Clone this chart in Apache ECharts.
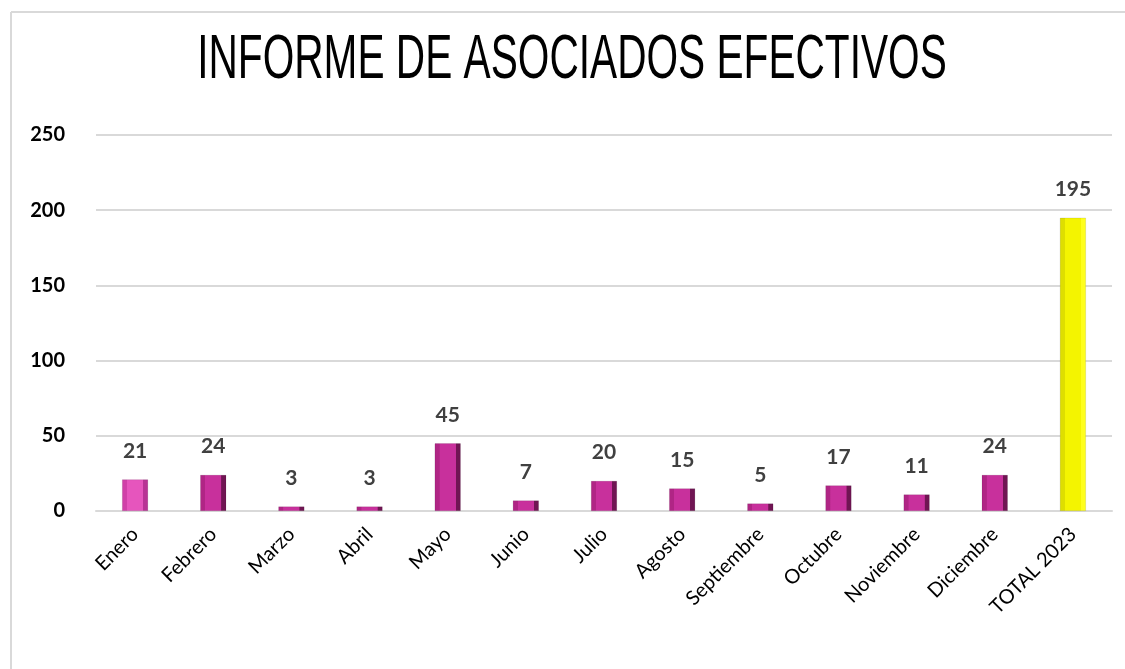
<!DOCTYPE html>
<html>
<head>
<meta charset="utf-8">
<script src="https://cdn.jsdelivr.net/npm/echarts@6/dist/echarts.min.js"></script>
<style>
  html, body { margin: 0; padding: 0; background: #fff; }
  #chart { width: 1125px; height: 669px; }
</style>
</head>
<body>
<div id="chart"></div>
<script>
const months = ['Enero', 'Febrero', 'Marzo', 'Abril', 'Mayo', 'Junio', 'Julio', 'Agosto',
  'Septiembre', 'Octubre', 'Noviembre', 'Diciembre', 'TOTAL 2023'];
const values = [21, 24, 3, 3, 45, 7, 20, 15, 5, 17, 11, 24, 195];
const yTicks = [0, 50, 100, 150, 200, 250];
const titleText = 'INFORME DE ASOCIADOS EFECTIVOS';

function bevel(left, mid, right) {
  return new echarts.graphic.LinearGradient(0, 0, 1, 0, [
    { offset: 0, color: left },
    { offset: 0.18, color: left },
    { offset: 0.2, color: mid },
    { offset: 0.8, color: mid },
    { offset: 0.82, color: right },
    { offset: 1, color: right }
  ]);
}

const magenta = bevel('#b02585', '#c8309c', '#701553');
const pink = bevel('#d040a8', '#e655bd', '#b83495');
const yellow = bevel('#dede00', '#f4f400', '#ffff1e');

const barData = values.map((v, i) => {
  let c = magenta;
  if (i === 0) c = pink;
  if (i === values.length - 1) c = yellow;
  return { value: v, itemStyle: { color: c, borderColor: 'rgba(0,0,0,0.2)', borderWidth: 0.5 } };
});

const chart = echarts.init(document.getElementById('chart'));
chart.setOption({
  backgroundColor: '#fff',
  animation: false,
  graphic: [
    { type: 'line', shape: { x1: 11, y1: 12, x2: 1125, y2: 12 }, style: { stroke: '#d9d9d9', lineWidth: 2 } },
    { type: 'line', shape: { x1: 11, y1: 12, x2: 11, y2: 669 }, style: { stroke: '#d9d9d9', lineWidth: 2 } },
    {
      type: 'text',
      x: 572, y: 61,
      scaleX: 0.645,
      originX: 0, originY: 0,
      style: {
        text: titleText,
        font: '63px "Liberation Sans"',
        fill: '#000',
        align: 'center',
        verticalAlign: 'middle'
      }
    }
  ],
  grid: { left: 96, right: 13, top: 135, bottom: 158 },
  xAxis: {
    type: 'category',
    data: months,
    axisLine: { lineStyle: { color: '#d9d9d9', width: 2 } },
    axisTick: { show: false },
    axisLabel: {
      rotate: 45,
      margin: 20,
      color: '#000',
      fontFamily: 'Lato',
      fontSize: 20,
      interval: 0
    }
  },
  yAxis: {
    type: 'value',
    min: yTicks[0],
    max: yTicks[yTicks.length - 1],
    interval: 50,
    axisLine: { show: false },
    axisTick: { show: false },
    splitLine: { lineStyle: { color: '#d9d9d9', width: 2 } },
    axisLabel: {
      color: '#000',
      fontFamily: 'Lato',
      fontWeight: 'bold',
      fontSize: 20,
      margin: 31
    }
  },
  series: [{
    type: 'bar',
    data: barData,
    barWidth: 26,
    label: {
      show: true,
      position: 'top',
      distance: 18,
      color: '#404040',
      fontFamily: 'Lato',
      fontWeight: 'bold',
      fontSize: 21
    }
  }]
});
</script>
</body>
</html>
